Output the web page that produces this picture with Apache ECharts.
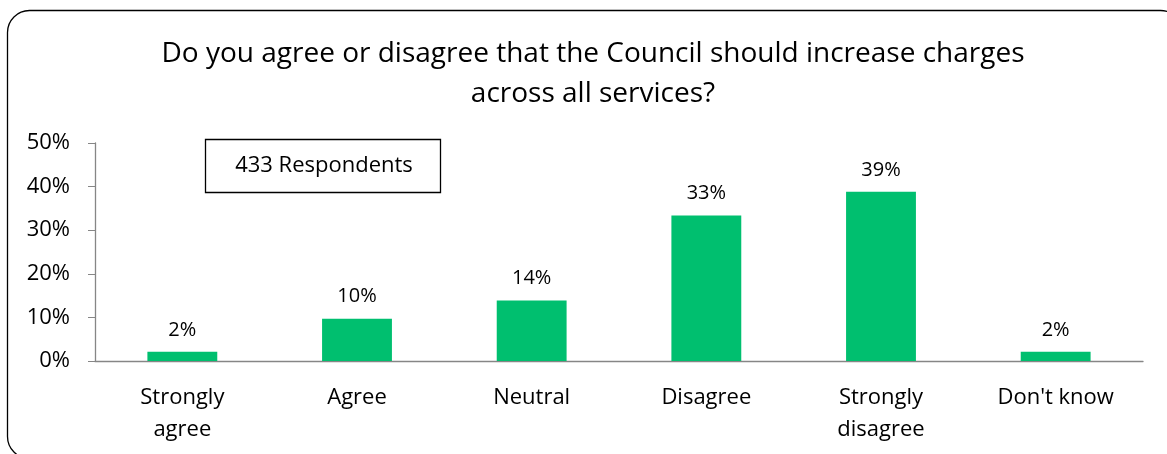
<!DOCTYPE html>
<html>
<head>
<meta charset="utf-8">
<script src="https://cdn.jsdelivr.net/npm/echarts@6/dist/echarts.min.js"></script>
<style>
	html, body { margin: 0; padding: 0; background: #fff; }
	#chart { width: 1167px; height: 454px; }
</style>
</head>
<body>
<div id="chart"></div>
<script>
const categories = ["Strongly\nagree", "Agree", "Neutral", "Disagree", "Strongly\ndisagree", "Don't know"];
const shares = [2.1, 9.7, 13.9, 33.4, 38.8, 2.1];
const respondents = 433;

const font = "'Open Sans', sans-serif";
const chart = echarts.init(document.getElementById("chart"));

const option = {
	textStyle: { fontFamily: font },
	title: {
		text: "Do you agree or disagree that the Council should increase charges\nacross all services?",
		left: 588,
		textAlign: "center",
		top: 29,
		textStyle: {
			fontFamily: font,
			fontSize: 28,
			fontWeight: "normal",
			color: "#000",
			lineHeight: 40
		}
	},
	grid: {
		left: 95,
		right: 24,
		top: 143,
		bottom: 93
	},
	xAxis: {
		type: "category",
		data: categories,
		axisLine: { lineStyle: { color: "#868686", width: 1.3 } },
		axisTick: { length: 7, lineStyle: { color: "#868686" } },
		axisLabel: {
			color: "#000",
			fontSize: 22,
			margin: 21,
			lineHeight: 32,
			interval: 0
		}
	},
	yAxis: {
		type: "value",
		min: 0,
		max: 50,
		interval: 10,
		splitLine: { show: false },
		axisLine: { show: true, lineStyle: { color: "#868686", width: 1.3 } },
		axisTick: { show: true, length: 7, lineStyle: { color: "#868686" } },
		axisLabel: {
			color: "#000",
			fontSize: 22,
			margin: 25,
			formatter: "{value}%"
		}
	},
	series: [{
		type: "bar",
		data: shares,
		barCategoryGap: "60%",
		itemStyle: { color: "#00BF6F" },
		label: {
			show: true,
			position: "top",
			distance: 12,
			color: "#000",
			fontSize: 20,
			formatter: p => Math.round(p.value) + "%"
		}
	}],
	graphic: [
		{
			type: "rect",
			shape: { x: 7.5, y: 10.5, width: 1175, height: 448, r: 22 },
			style: { fill: "none", stroke: "#000", lineWidth: 1.3 },
			silent: true
		},
		{
			type: "rect",
			shape: { x: 205.5, y: 139.5, width: 235, height: 53 },
			style: { fill: "#fff", stroke: "#000", lineWidth: 1.3 },
			z: 10
		},
		{
			type: "text",
			x: 324,
			y: 166,
			z: 11,
			style: {
				text: respondents + " Respondents",
				font: "22px " + font,
				fill: "#000",
				textAlign: "center",
				textVerticalAlign: "middle"
			}
		}
	]
};

chart.setOption(option);
window.onresize = chart.resize;
</script>
</body>
</html>
